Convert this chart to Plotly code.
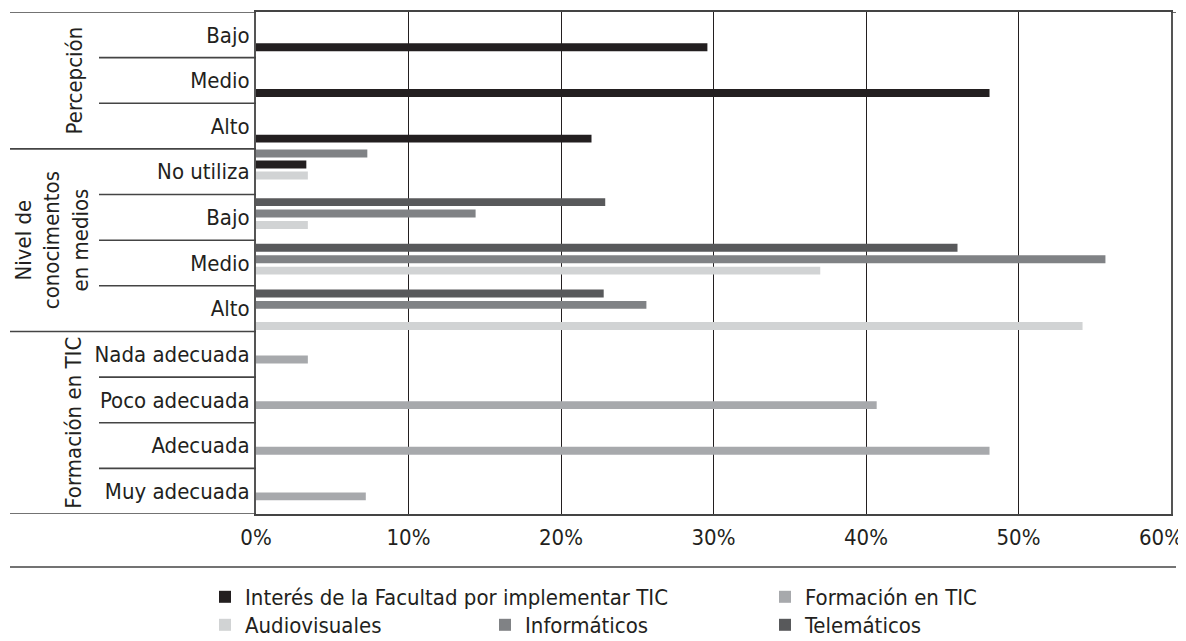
import plotly.graph_objects as go

# ---------------- data ----------------
groups = ["Percepción"] * 3 + ["Nivel de conocimentos en medios"] * 4 + ["Formación en TIC"] * 4
labels = ["Bajo", "Medio", "Alto",
          "No utiliza", "Bajo", "Medio", "Alto",
          "Nada adecuada", "Poco adecuada", "Adecuada", "Muy adecuada"]
keys = [f"{g}|{l}" for g, l in zip(groups, labels)]

interes = [29.6, 48.1, 22.0, 3.3, None, None, None, None, None, None, None]
formacion = [None, None, None, None, None, None, None, 3.4, 40.7, 48.1, 7.2]
audiovisuales = [None, None, None, 3.4, 3.4, 37.0, 54.2, None, None, None, None]
informaticos = [None, None, None, 7.3, 14.4, 55.7, 25.6, None, None, None, None]
telematicos = [None, None, None, None, 22.9, 46.0, 22.8, None, None, None, None]

x_ticks = [0, 10, 20, 30, 40, 50, 60]

# ---------------- layout / style ----------------
OFF = 8                      # page body margin of the html page
W, H = 1186 - OFF, 641 - OFF
# plot area in page pixels: x 256..1171, y 12..514
M = dict(l=256 - OFF, r=W - (1171 - OFF), t=12 - OFF, b=H - (514 - OFF))
PH = H - M["t"] - M["b"]
PW = W - M["l"] - M["r"]
ROW = PH / len(keys)
BAR_PX = 7.9
FONT = "Liberation Sans Narrow, DejaVu Sans Condensed, Arial Narrow, sans-serif"
TXT = "#231f20"
FS = 22

# vertical position of each bar's centre within its row (pixels, + = down)
def offsets(default_px, special=None):
    special = special or {}
    w = BAR_PX / ROW
    return [special.get(i, default_px) / ROW - w / 2 for i in range(len(keys))]

series = [
    ("Interés de la Facultad por implementar TIC", interes, "#231f20", offsets(12.5, {3: -7.3}), "legend"),
    ("Formación en TIC", formacion, "#a7a9ac", offsets(5.2), "legend2"),
    ("Audiovisuales", audiovisuales, "#d1d3d4", offsets(7.6, {3: 3.7, 6: 17.3}), "legend3"),
    ("Informáticos", informaticos, "#808285", offsets(-3.8, {3: -18.3}), "legend3"),
    ("Telemáticos", telematicos, "#58595b", offsets(-15.2), "legend3"),
]

fig = go.Figure()
for name, vals, color, offs, leg in series:
    fig.add_trace(go.Bar(
        y=keys, x=vals, name=name, orientation="h",
        marker=dict(color=color, line=dict(width=0)),
        width=BAR_PX / ROW, offset=offs, legend=leg,
    ))

def leg(x_px, y_px, ew=None):
    d = dict(orientation="h", xref="container", yref="container",
             x=x_px / W, y=1 - y_px / H, xanchor="left", yanchor="middle",
             font=dict(family=FONT, size=FS, color=TXT), bgcolor="rgba(0,0,0,0)")
    if ew:
        d.update(entrywidth=ew, entrywidthmode="pixels")
    return d

fig.update_layout(
    width=W, height=H, margin=M, barmode="overlay",
    paper_bgcolor="white", plot_bgcolor="white",
    font=dict(family=FONT, size=FS, color=TXT),
    showlegend=True,
    legend=leg(197, 589),
    legend2=leg(757, 589),
    legend3=leg(197, 617, 235),
)

fig.update_xaxes(
    range=[0, 60], tickvals=x_ticks[:-1], ticktext=[f"{v}%" for v in x_ticks[:-1]],
    showgrid=True, gridcolor="#231f20", gridwidth=1.3, zeroline=False,
    showline=True, linecolor="#444", linewidth=2, mirror=True,
    ticks="", ticklabelstandoff=3, tickfont=dict(size=FS), automargin=False,
)
fig.update_yaxes(
    type="category", categoryorder="array", categoryarray=keys,
    tickvals=keys, ticktext=labels, range=[len(keys) - 0.5, -0.5],
    showgrid=False, zeroline=False, showline=True, linecolor="#555", linewidth=2,
    mirror=True, ticks="", ticklabelstandoff=0, tickfont=dict(size=FS), automargin=False,
)

# last tick label, kept inside the page edge
fig.add_annotation(text=f"{x_ticks[-1]}%", xref="x", yref="paper", x=x_ticks[-1], y=0,
                   xanchor="right", yanchor="top", xshift=14, yshift=-9,
                   showarrow=False, font=dict(size=FS))

# margin lines (group separators and frame extensions)
L_FULL = (10 - OFF - M["l"]) / PW
L_SHORT = (99 - OFF - M["l"]) / PW
R_END = (1176 - OFF - M["l"]) / PW
line = dict(color="#444", width=1.6)
shapes = []
for yb in [-0.5, 2.5, 6.5, len(keys) - 0.5]:
    shapes.append(dict(type="line", xref="paper", yref="y", x0=L_FULL, x1=0, y0=yb, y1=yb, line=line))
for yb in [0.5, 1.5, 3.5, 4.5, 5.5, 7.5, 8.5, 9.5]:
    shapes.append(dict(type="line", xref="paper", yref="y", x0=L_SHORT, x1=0, y0=yb, y1=yb, line=line))
shapes.append(dict(type="line", xref="paper", yref="y", x0=1, x1=R_END, y0=-0.5, y1=-0.5, line=line))
shapes.append(dict(type="line", xref="paper", yref="paper", x0=L_FULL, x1=R_END,
                   y0=-53 / PH, y1=-53 / PH, line=line))
fig.update_layout(shapes=shapes)

# rotated group labels
for text, xpx, yc in [("Percepción", 74, 1),
                      ("Nivel de<br>conocimentos<br>en medios", 52, 4.5),
                      ("Formación en TIC", 74, 8.5)]:
    fig.add_annotation(text=text, xref="paper", yref="y", x=(xpx - OFF - M["l"]) / PW, y=yc,
                       xanchor="center", yanchor="middle", textangle=-90, showarrow=False,
                       font=dict(size=FS), align="center")

fig.write_html("out.html")
